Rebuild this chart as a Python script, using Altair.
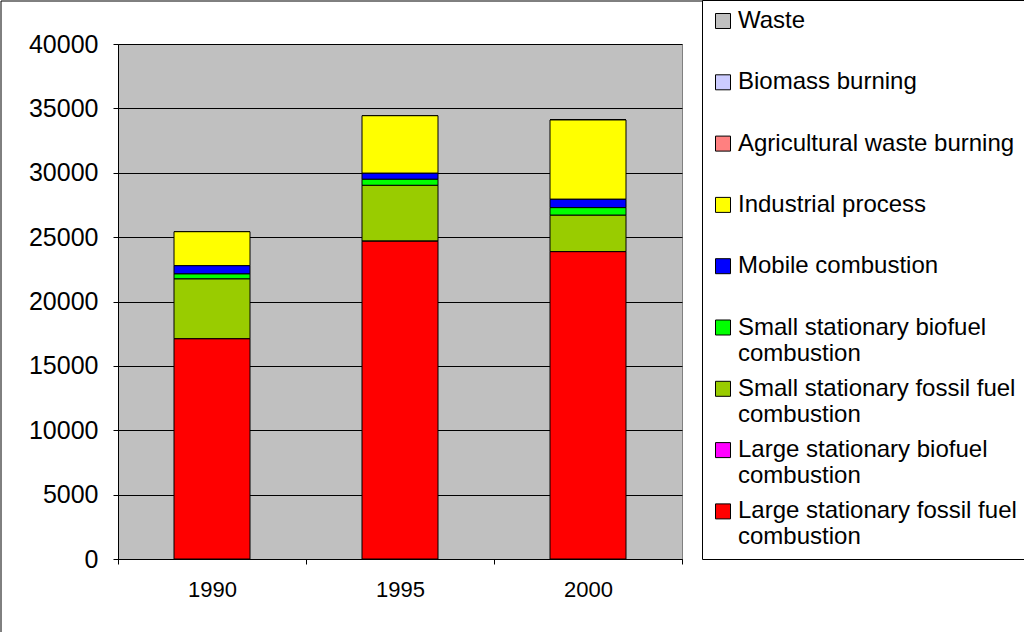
import altair as alt
import pandas as pd

years = ["1990", "1995", "2000"]
categories = [
    "Waste",
    "Biomass burning",
    "Agricultural waste burning",
    "Industrial process",
    "Mobile combustion",
    "Small stationary biofuel combustion",
    "Small stationary fossil fuel combustion",
    "Large stationary biofuel combustion",
    "Large stationary fossil fuel combustion",
]
colors = ["#C0C0C0", "#CCCCFF", "#FF8080", "#FFFF00", "#0000FF",
          "#00FF00", "#99CC00", "#FF00FF", "#FF0000"]

waste = [0, 0, 0]
biomass = [0, 0, 0]
agricultural = [0, 0, 0]
industrial = [2640, 4470, 6160]
mobile = [640, 470, 650]
small_biofuel = [390, 470, 590]
small_fossil = [4650, 4340, 2830]
large_biofuel = [0, 0, 0]
large_fossil = [17100, 24680, 23870]

series = [waste, biomass, agricultural, industrial, mobile,
          small_biofuel, small_fossil, large_biofuel, large_fossil]
y_ticks = list(range(0, 40001, 5000))

rows = []
for i, (cat, vals) in enumerate(zip(categories, series)):
    for yr, v in zip(years, vals):
        rows.append({"year": yr, "category": cat, "value": v,
                     "order": len(categories) - 1 - i})
df = pd.DataFrame(rows)

FONT = "Liberation Sans"

frame = alt.Chart(pd.DataFrame({"a": [0]})).mark_rect(
    fillOpacity=0, stroke="black", strokeWidth=1
).encode(
    x=alt.value(-117), x2=alt.value(912), y=alt.value(-43), y2=alt.value(596)
)

label_expr = ("indexof(datum.label, 'stationary') >= 0 ? "
              "[replace(datum.label, ' combustion', ''), 'combustion'] : "
              "[datum.label, '']")

bars = alt.Chart(df).mark_bar(size=76, stroke="black", strokeWidth=1).encode(
    x=alt.X("year:N", sort=years,
            scale=alt.Scale(paddingInner=0, paddingOuter=0),
            axis=alt.Axis(title=None, labelAngle=0, tickBand="extent",
                          labelFontSize=22, labelPadding=15, tickSize=5,
                          labelBaseline="top")),
    y=alt.Y("value:Q", stack="zero",
            scale=alt.Scale(domain=[0, 40000], nice=False),
            axis=alt.Axis(title=None, values=y_ticks, format="d",
                          labelFontSize=25, labelPadding=15, tickSize=5,
                          grid=True, gridColor="#000000", gridWidth=1)),
    color=alt.Color("category:N",
                    scale=alt.Scale(domain=categories, range=colors),
                    legend=alt.Legend(
                        title=None, orient="none", legendX=584, legendY=-44,
                        strokeColor="black", fillColor="white", padding=9,
                        symbolType="square", symbolSize=225,
                        symbolStrokeColor="black", symbolStrokeWidth=1,
                        labelFont=FONT, labelFontSize=24, labelColor="black",
                        labelExpr=label_expr, labelLimit=400, labelOffset=3,
                        labelBaseline="middle", rowPadding=11.3)),
    order=alt.Order("order:Q", sort="ascending"),
)

chart = alt.layer(frame, bars).properties(
    width=564, height=515,
    autosize=alt.AutoSizeParams(type="none"),
    padding={"left": 118, "top": 44, "right": 342, "bottom": 73},
    background="white",
).configure_view(
    fill="#C0C0C0", stroke="#808080", strokeWidth=1
).configure_axis(
    labelFont=FONT, labelColor="black", domainColor="black",
    tickColor="black", domainWidth=1
)

chart.save("out.html", embed_options={"renderer": "svg", "actions": False})
